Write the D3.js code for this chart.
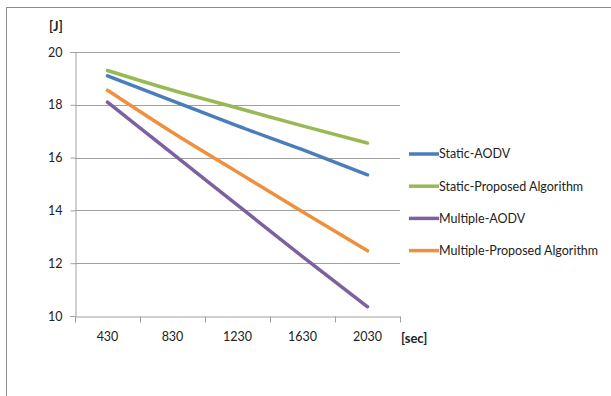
<!DOCTYPE html>
<html>
<head>
<meta charset="utf-8">
<script src="https://cdn.jsdelivr.net/npm/d3@7"></script>
<style>
  html, body { margin: 0; padding: 0; background: #fff; }
  svg { display: block; }
  text { font-family: "Lato", "Liberation Sans", sans-serif; fill: #222; }
</style>
</head>
<body>
<svg id="chart" width="611" height="396"></svg>
<script>
// Energy over simulation time
const categories = ["430", "830", "1230", "1630", "2030"];
const seriesNames = ["Static-AODV", "Static-Proposed Algorithm", "Multiple-AODV", "Multiple-Proposed Algorithm"];
const staticAodv = [19.1, 18.15, 17.2, 16.3, 15.35];
const staticProposed = [19.3, 18.55, 17.88, 17.2, 16.55];
const multipleAodv = [18.1, 16.15, 14.2, 12.25, 10.35];
const multipleProposed = [18.55, 16.95, 15.45, 13.95, 12.47];
const yTicks = [10, 12, 14, 16, 18, 20];
const colors = ["#4a7ebb", "#98b954", "#7d60a0", "#f0903f"];

const series = [staticAodv, staticProposed, multipleAodv, multipleProposed]
  .map((values, i) => ({ name: seriesNames[i], values, color: colors[i] }));

const svg = d3.select("#chart");

// outer frame
svg.append("rect")
  .attr("x", 6.5).attr("y", 7.5)
  .attr("width", 620).attr("height", 400)
  .attr("fill", "none").attr("stroke", "#8c8c8c").attr("stroke-width", 1);

const plot = { left: 75, right: 400, top: 52, bottom: 316 };

const x = d3.scaleBand().domain(categories).range([plot.left, plot.right]);
const y = d3.scaleLinear().domain([10, 20]).range([plot.bottom, plot.top]);

// horizontal gridlines
svg.append("g")
  .selectAll("line")
  .data(yTicks.filter(t => t !== 10))
  .join("line")
  .attr("x1", plot.left).attr("x2", plot.right)
  .attr("y1", d => Math.round(y(d)) + 0.5).attr("y2", d => Math.round(y(d)) + 0.5)
  .attr("stroke", "#a0a0a0").attr("stroke-width", 1);

// y axis
const yAxis = svg.append("g")
  .attr("transform", `translate(${plot.left + 0.5},0)`)
  .call(d3.axisLeft(y).tickValues(yTicks).tickSize(5).tickPadding(8).tickFormat(d3.format("d")));
yAxis.select(".domain").attr("stroke", "#a0a0a0");
yAxis.selectAll(".tick line").attr("stroke", "#a0a0a0");
yAxis.selectAll(".tick text").attr("font-size", 12.5).attr("font-family", "Lato").attr("fill", "#222");

// x axis
const xAxis = svg.append("g")
  .attr("transform", `translate(0,${plot.bottom + 0.5})`)
  .call(d3.axisBottom(x).tickSize(0).tickPadding(16));
xAxis.select(".domain").attr("stroke", "#a0a0a0");
xAxis.selectAll(".tick text").attr("font-size", 12.5).attr("font-family", "Lato").attr("fill", "#222");
// category boundary tick marks
xAxis.selectAll("line.sep")
  .data(categories.map(c => x(c)).concat([x.range()[1]]))
  .join("line")
  .attr("class", "sep")
  .attr("x1", d => Math.round(d) + 0.5).attr("x2", d => Math.round(d) + 0.5)
  .attr("y1", 0).attr("y2", 6)
  .attr("stroke", "#a0a0a0");

// axis unit labels
svg.append("text").attr("x", 49).attr("y", 31).attr("font-size", 13).attr("font-weight", 700).text("[J]");
svg.append("text").attr("x", 401).attr("y", 343).attr("font-size", 13).attr("font-weight", 700).text("[sec]");

// series lines
const line = d3.line()
  .x((d, i) => x(categories[i]) + x.bandwidth() / 2)
  .y(d => y(d))
  .curve(d3.curveMonotoneX);

svg.append("g")
  .selectAll("path")
  .data(series)
  .join("path")
  .attr("d", d => line(d.values))
  .attr("fill", "none")
  .attr("stroke", d => d.color)
  .attr("stroke-width", 3.5)
  .attr("stroke-linecap", "round");

// legend
const legend = svg.append("g").attr("transform", "translate(409,154)");
const item = legend.selectAll("g")
  .data(series)
  .join("g")
  .attr("transform", (d, i) => `translate(0,${i * 32.2})`);
item.append("line")
  .attr("x1", 0).attr("x2", 30).attr("y1", 0).attr("y2", 0)
  .attr("stroke", d => d.color).attr("stroke-width", 3.5);
item.append("text")
  .attr("x", 30).attr("y", 0).attr("dy", "0.35em")
  .attr("font-size", 12.5)
  .text(d => d.name);
</script>
</body>
</html>
